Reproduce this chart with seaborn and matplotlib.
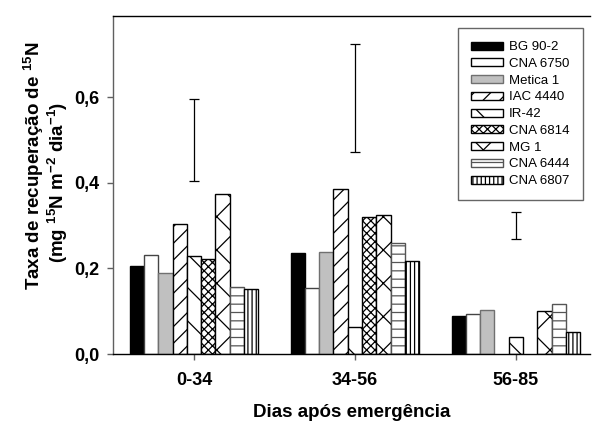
import numpy as np
import pandas as pd
import matplotlib
matplotlib.use("Agg")
import matplotlib.pyplot as plt
import seaborn as sns
from matplotlib.patches import Patch

# ---------------- data ----------------
categories = ["0-34", "34-56", "56-85"]
cultivars = ["BG 90-2", "CNA 6750", "Metica 1", "IAC 4440", "IR-42",
             "CNA 6814", "MG 1", "CNA 6444", "CNA 6807"]
bg_90_2 = [0.206, 0.235, 0.089]
cna_6750 = [0.231, 0.154, 0.094]
metica_1 = [0.190, 0.239, 0.104]
iac_4440 = [0.305, 0.385, np.nan]
ir_42 = [0.229, 0.063, 0.039]
cna_6814 = [0.221, 0.321, np.nan]
mg_1 = [0.374, 0.324, 0.101]
cna_6444 = [0.156, 0.260, 0.116]
cna_6807 = [0.151, 0.218, 0.051]
err_low = [0.404, 0.473, 0.268]
err_high = [0.597, 0.725, 0.333]
y_ticks = [0.0, 0.2, 0.4, 0.6]
y_ticklabels = ["0,0", "0,2", "0,4", "0,6"]
ylabel_lines = ["Taxa de recuperação de $^{15}$N",
                "(mg $^{15}$N m$^{-2}$ dia$^{-1}$)"]

series = [bg_90_2, cna_6750, metica_1, iac_4440, ir_42,
          cna_6814, mg_1, cna_6444, cna_6807]
rows = []
for name, vals in zip(cultivars, series):
    for cat, v in zip(categories, vals):
        rows.append({"period": cat, "cultivar": name, "value": v})
df = pd.DataFrame(rows)

# ---------------- style ----------------
sns.set_style("ticks")
plt.rcParams["font.family"] = ["Liberation Sans", "DejaVu Sans"]
plt.rcParams["mathtext.fontset"] = "custom"
plt.rcParams["mathtext.rm"] = "Liberation Sans"
plt.rcParams["mathtext.bf"] = "Liberation Sans:bold"
plt.rcParams["mathtext.default"] = "bf"
plt.rcParams["hatch.linewidth"] = 0.9
for k in ["text.color", "axes.labelcolor", "xtick.labelcolor", "ytick.labelcolor"]:
    plt.rcParams[k] = "black"

styles = {
    "BG 90-2": dict(fc="black", ec="black", hatch=None),
    "CNA 6750": dict(fc="white", ec="#444444", hatch=None),
    "Metica 1": dict(fc="#c0c0c0", ec="#707070", hatch=None),
    "IAC 4440": dict(fc="white", ec="black", hatch="//"),
    "IR-42": dict(fc="white", ec="black", hatch="\\"),
    "CNA 6814": dict(fc="white", ec="black", hatch="xxxx"),
    "MG 1": dict(fc="white", ec="black", hatch="x"),
    "CNA 6444": dict(fc="white", ec="#555555", hatch="--"),
    "CNA 6807": dict(fc="white", ec="black", hatch="||||"),
}

W, H = 593, 423
fig = plt.figure(figsize=(W / 100, H / 100), dpi=100)
ax = fig.add_axes([113 / W, 1 - 354 / H, 477 / W, 338 / H])

sns.barplot(data=df, x="period", y="value", hue="cultivar",
            order=categories, hue_order=cultivars, errorbar=None,
            width=0.8, saturation=1, legend=False, ax=ax)

for cont, name in zip(ax.containers, cultivars):
    st = styles[name]
    for bar in cont:
        bar.set_facecolor(st["fc"])
        bar.set_edgecolor(st["ec"])
        bar.set_linewidth(1.0)
        if st["hatch"]:
            bar.set_hatch(st["hatch"])

# error bars (LSD-like), centered on each group
xpos = np.arange(len(categories))
mid = [(a + b) / 2 for a, b in zip(err_low, err_high)]
half = [(b - a) / 2 for a, b in zip(err_low, err_high)]
ax.errorbar(xpos, mid, yerr=half, fmt="none", ecolor="black",
            elinewidth=0.9, capsize=3.5, capthick=0.9)

ax.set_xlim(-0.503, 2.46)
ax.set_ylim(0, 0.79)
ax.set_yticks(y_ticks)
ax.set_yticklabels(y_ticklabels)

for s in ["left", "top", "bottom"]:
    ax.spines[s].set_visible(True)
    ax.spines[s].set_linewidth(1.0)
    ax.spines[s].set_color("black")
ax.spines["right"].set_visible(False)
ax.spines["left"].set_color("#606060")

ax.tick_params(axis="both", direction="out", length=4, width=1,
               color="#606060", labelsize=13, labelcolor="black")
ax.tick_params(axis="y", pad=6)
ax.tick_params(axis="x", pad=9)
for lab in ax.get_xticklabels() + ax.get_yticklabels():
    lab.set_fontweight("bold")

ax.set_xlabel("Dias após emergência", fontsize=13.5, fontweight="bold",
              labelpad=11)
ax.set_ylabel("")
fig.text(34 / W, 1 - 166 / H, ylabel_lines[0], rotation=90, ha="center",
         va="center", fontsize=13.5, fontweight="bold")
fig.text(58 / W, 1 - 182 / H, ylabel_lines[1], rotation=90, ha="center",
         va="center", fontsize=13.5, fontweight="bold")

handles = []
for name in cultivars:
    st = styles[name]
    handles.append(Patch(facecolor=st["fc"], edgecolor=st["ec"] if name != "CNA 6750" else "black",
                         hatch=st["hatch"], linewidth=1.0, label=name))
leg = ax.legend(handles=handles, loc="upper right",
                bbox_to_anchor=(0.985, 0.9645), borderaxespad=0,
                fontsize=9.5, frameon=True, fancybox=False,
                handlelength=2.4, handleheight=0.55, labelspacing=0.36,
                handletextpad=0.5, borderpad=1.0)
leg.get_frame().set_edgecolor("#404040")
leg.get_frame().set_linewidth(1.0)
for t in leg.get_texts():
    t.set_color("black")

fig.savefig("out.png", dpi=100)
